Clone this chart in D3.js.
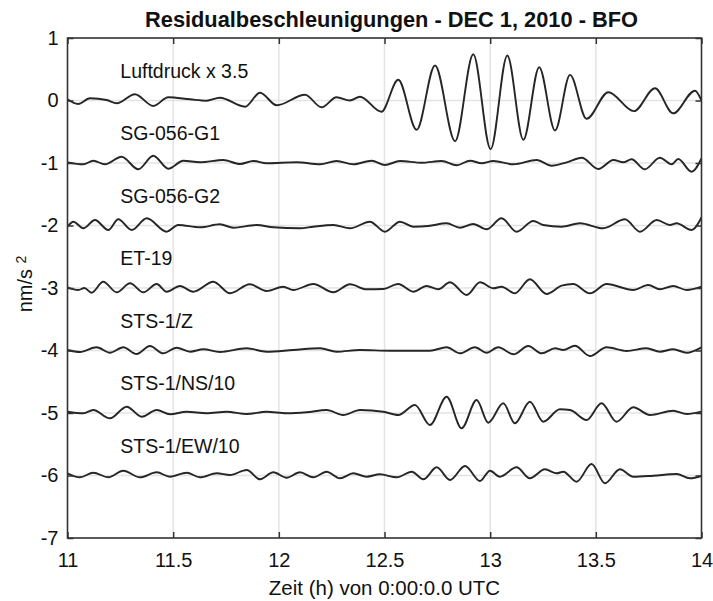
<!DOCTYPE html>
<html>
<head>
<meta charset="utf-8">
<script src="https://cdn.jsdelivr.net/npm/d3@7"></script>
<style>
	body { margin: 0; background: #fff; }
	svg text { font-family: "Liberation Sans", Arial, sans-serif; fill: #111; }
</style>
</head>
<body>
<svg id="chart" width="713" height="601"></svg>
<script>
// residuals: [hour, value] at each peak / trough
const luftdruck = [[11.0, 0.02], [11.05, -0.056], [11.106, 0.035], [11.185, 0.008], [11.233, -0.045], [11.319, 0.099],
	[11.406, -0.088], [11.477, 0.051], [11.58, 0.019], [11.658, -0.003], [11.721, 0.045], [11.84, -0.099], [11.911, 0.125],
	[11.99, -0.077], [12.124, 0.093], [12.202, -0.109], [12.273, 0.051], [12.336, 0.0], [12.384, 0.061], [12.485, -0.18],
	[12.565, 0.331], [12.652, -0.469], [12.739, 0.56], [12.834, -0.651], [12.92, 0.74], [13.002, -0.779], [13.081, 0.72],
	[13.157, -0.629], [13.232, 0.533], [13.307, -0.48], [13.378, 0.41], [13.456, -0.293], [13.559, 0.133], [13.68, -0.17],
	[13.78, 0.195], [13.866, -0.205], [13.969, 0.157], [14.0, 0.0]];

const sg056g1 = [[11.0, 0.011], [11.075, -0.021], [11.122, 0.037], [11.177, -0.021], [11.256, 0.101], [11.335, -0.101],
	[11.406, 0.117], [11.477, -0.091], [11.548, 0.037], [11.627, 0.011], [11.737, 0.048], [11.816, -0.016], [11.879, 0.032],
	[11.942, -0.005], [12.084, 0.011], [12.195, -0.021], [12.273, 0.032], [12.352, -0.021], [12.439, 0.037], [12.502, -0.032],
	[12.573, 0.032], [12.676, 0.005], [12.771, 0.032], [12.841, -0.037], [12.905, 0.037], [12.96, -0.005], [13.015, 0.032],
	[13.11, -0.021], [13.22, 0.048], [13.291, -0.043], [13.362, 0.011], [13.433, 0.085], [13.512, -0.096], [13.583, 0.048],
	[13.63, 0.011], [13.669, 0.059], [13.732, -0.101], [13.803, 0.085], [13.859, -0.021], [13.89, 0.064], [13.953, -0.139],
	[14.0, 0.075]];

const sg056g2 = [[11.0, -0.019], [11.028, 0.061], [11.075, -0.045], [11.13, 0.088], [11.193, -0.072], [11.24, 0.099],
	[11.304, -0.072], [11.375, 0.115], [11.469, -0.099], [11.524, 0.008], [11.627, -0.029], [11.721, 0.019], [11.785, -0.035],
	[11.895, 0.008], [11.974, -0.029], [12.1, -0.045], [12.163, -0.019], [12.258, 0.008], [12.337, -0.045], [12.431, 0.061],
	[12.502, -0.099], [12.573, 0.061], [12.636, -0.019], [12.707, -0.008], [12.794, 0.035], [12.857, -0.035], [12.92, 0.024],
	[12.983, -0.061], [13.054, 0.115], [13.125, -0.099], [13.204, 0.072], [13.251, 0.008], [13.338, -0.019], [13.425, 0.035],
	[13.535, -0.045], [13.638, 0.099], [13.709, -0.099], [13.788, 0.088], [13.851, 0.008], [13.882, 0.035], [13.953, -0.072],
	[14.0, 0.131]];

const et19 = [[11.0, 0.011], [11.051, -0.032], [11.08, 0.0], [11.114, -0.075], [11.169, 0.101], [11.233, -0.069],
	[11.296, 0.075], [11.359, -0.069], [11.422, 0.064], [11.469, -0.059], [11.532, 0.032], [11.595, -0.059], [11.69, 0.101],
	[11.769, -0.085], [11.863, 0.059], [11.942, -0.048], [12.021, 0.021], [12.068, -0.032], [12.163, 0.064], [12.258, -0.069],
	[12.337, 0.059], [12.415, -0.021], [12.494, -0.016], [12.565, 0.064], [12.636, -0.059], [12.699, 0.032], [12.755, -0.021],
	[12.81, 0.091], [12.889, -0.112], [12.952, 0.091], [13.015, -0.005], [13.054, 0.021], [13.117, -0.085], [13.188, 0.139],
	[13.267, -0.096], [13.338, 0.037], [13.393, 0.064], [13.472, -0.085], [13.551, 0.064], [13.677, -0.032], [13.748, 0.048],
	[13.803, -0.021], [13.866, 0.032], [13.93, -0.032], [14.0, 0.021]];

const stsZ = [[11.0, 0.008], [11.059, -0.024], [11.138, 0.051], [11.201, -0.035], [11.264, 0.051], [11.327, -0.056],
	[11.39, 0.072], [11.453, -0.045], [11.516, 0.045], [11.58, -0.019], [11.643, 0.019], [11.721, -0.024], [11.848, 0.035],
	[11.942, -0.019], [12.068, 0.008], [12.195, 0.035], [12.273, -0.019], [12.384, 0.008], [12.526, -0.003], [12.715, -0.003],
	[12.794, 0.051], [12.857, -0.045], [12.928, 0.051], [12.983, -0.035], [13.038, 0.051], [13.11, -0.061], [13.18, 0.072],
	[13.244, -0.045], [13.307, 0.035], [13.346, 0.008], [13.401, 0.077], [13.472, -0.088], [13.551, 0.051], [13.646, -0.008],
	[13.74, 0.035], [13.803, -0.019], [13.866, 0.019], [13.93, -0.035], [14.0, 0.051]];

const stsNS = [[11.0, 0.021], [11.075, -0.005], [11.122, 0.048], [11.201, -0.085], [11.28, 0.101], [11.351, -0.059],
	[11.422, 0.048], [11.485, -0.021], [11.564, 0.021], [11.658, -0.005], [11.753, 0.021], [11.848, -0.016], [11.942, 0.021],
	[12.037, -0.005], [12.131, 0.011], [12.226, 0.048], [12.305, -0.032], [12.384, 0.048], [12.494, 0.021], [12.565, -0.032],
	[12.644, 0.128], [12.715, -0.192], [12.794, 0.261], [12.865, -0.245], [12.936, 0.208], [12.991, -0.155], [13.062, 0.155],
	[13.117, -0.165], [13.188, 0.181], [13.251, -0.139], [13.33, 0.059], [13.378, 0.048], [13.456, -0.112], [13.527, 0.155],
	[13.598, -0.139], [13.677, 0.091], [13.756, -0.032], [13.866, 0.037], [13.93, -0.016], [14.0, 0.021]];

const stsEW = [[11.0, 0.035], [11.059, -0.029], [11.122, 0.045], [11.193, -0.029], [11.264, 0.077], [11.343, -0.029],
	[11.422, 0.051], [11.485, -0.019], [11.564, 0.045], [11.627, -0.029], [11.706, 0.035], [11.769, 0.008], [11.848, 0.088],
	[11.911, -0.061], [11.974, 0.051], [12.037, -0.035], [12.1, 0.051], [12.163, -0.029], [12.226, 0.061], [12.289, -0.045],
	[12.352, 0.035], [12.415, -0.019], [12.478, 0.019], [12.558, -0.029], [12.629, 0.061], [12.684, -0.061], [12.747, 0.131],
	[12.81, -0.072], [12.881, 0.152], [12.952, -0.088], [12.999, 0.077], [13.046, -0.019], [13.125, 0.131], [13.188, -0.045],
	[13.259, 0.099], [13.315, 0.035], [13.346, 0.061], [13.409, -0.099], [13.48, 0.184], [13.543, -0.125], [13.614, 0.099],
	[13.677, -0.019], [13.772, -0.003], [13.882, 0.024], [13.945, -0.045], [14.0, -0.008]];

const traces = [luftdruck, sg056g1, sg056g2, et19, stsZ, stsNS, stsEW];
const traceLabels = ['Luftdruck x 3.5', 'SG-056-G1', 'SG-056-G2', 'ET-19', 'STS-1/Z', 'STS-1/NS/10', 'STS-1/EW/10'];
const traceOffsets = [0, -1, -2, -3, -4, -5, -6];

const xTicks = [11, 11.5, 12, 12.5, 13, 13.5, 14];
const yTicks = [1, 0, -1, -2, -3, -4, -5, -6, -7];

const chartTitle = 'Residualbeschleunigungen - DEC 1, 2010 - BFO';
const xTitle = 'Zeit (h) von 0:00:0.0 UTC';

const Chart = {
	margin: { top: 38, right: 11.5, bottom: 63, left: 67.5 },
	width: 713,
	height: 601,

	draw: function() {
		const self = this;
		let svg = d3.select('#chart');
		let innerWidth = self.width - self.margin.left - self.margin.right;
		let innerHeight = self.height - self.margin.top - self.margin.bottom;
		let x = d3.scaleLinear().domain([ 11, 14 ]).range([ 0, innerWidth ]);
		let y = d3.scaleLinear().domain([ -7, 1 ]).range([ innerHeight, 0 ]);
		let g = svg.append('g')
			.attr('transform', 'translate(' + self.margin.left + ',' + self.margin.top + ')');

		self.drawGrid(g, x, y, innerWidth, innerHeight);
		self.drawTraces(g, x, y, innerWidth, innerHeight);
		self.drawAxes(g, x, y, innerWidth, innerHeight);
		self.drawTexts(svg, g, x, y, innerWidth, innerHeight);
	},
	drawGrid: function(g, x, y, innerWidth, innerHeight) {
		g.append('g').selectAll('line')
			.data(xTicks.slice(1, -1))
			.join('line')
			.attr('x1', d => x(d)).attr('x2', d => x(d))
			.attr('y1', 0).attr('y2', innerHeight)
			.style('stroke', '#e3e3e3')
			.style('stroke-width', 1.5);

		g.append('g').selectAll('line')
			.data(yTicks.slice(1, -1))
			.join('line')
			.attr('x1', 0).attr('x2', innerWidth)
			.attr('y1', d => y(d)).attr('y2', d => y(d))
			.style('stroke', '#e3e3e3')
			.style('stroke-width', 1.5);
	},
	drawTraces: function(g, x, y, innerWidth, innerHeight) {
		g.append('clipPath').attr('id', 'plot-clip')
			.append('rect')
			.attr('width', innerWidth)
			.attr('height', innerHeight);

		for (let i = 0; i < traces.length; i++) {
			let offset = traceOffsets[i];
			let line = d3.line()
				.x(d => x(d[0]))
				.y(d => y(d[1] + offset))
				.curve(d3.curveMonotoneX);

			g.append('path')
				.datum(traces[i])
				.attr('d', line)
				.attr('clip-path', 'url(#plot-clip)')
				.style('fill', 'none')
				.style('stroke', '#262626')
				.style('stroke-width', 1.9);
		}
	},
	drawAxes: function(g, x, y, innerWidth, innerHeight) {
		// plain hyphen for negatives, like the original
		let plain = d => String(d);
		let bottom = g.append('g')
			.attr('transform', 'translate(0,' + innerHeight + ')')
			.call(d3.axisBottom(x).tickValues(xTicks).tickFormat(plain).tickSize(-6).tickPadding(15));
		let top = g.append('g')
			.call(d3.axisTop(x).tickValues(xTicks).tickFormat('').tickSize(-6));
		let left = g.append('g')
			.call(d3.axisLeft(y).tickValues(yTicks).tickFormat(plain).tickSize(-6).tickPadding(9));
		let right = g.append('g')
			.attr('transform', 'translate(' + innerWidth + ',0)')
			.call(d3.axisRight(y).tickValues(yTicks).tickFormat('').tickSize(-6));

		[ bottom, top, left, right ].forEach(function(axis) {
			axis.select('.domain').remove();
			axis.selectAll('.tick line')
				.style('stroke', '#333')
				.style('stroke-width', 1.5);
			axis.selectAll('.tick text')
				.style('font-size', '20px')
				.style('fill', '#111')
				.attr('font-family', null);
		});

		g.append('rect')
			.attr('width', innerWidth)
			.attr('height', innerHeight)
			.style('fill', 'none')
			.style('stroke', '#333')
			.style('stroke-width', 1.6);
	},
	drawTexts: function(svg, g, x, y, innerWidth, innerHeight) {
		const self = this;

		g.selectAll('.trace-label')
			.data(traceLabels)
			.join('text')
			.attr('class', 'trace-label')
			.attr('x', x(11.25))
			.attr('y', (d, i) => y(traceOffsets[i] + 0.47))
			.attr('dy', '0.35em')
			.style('font-size', '19.5px')
			.text(d => d);

		svg.append('text')
			.attr('x', self.margin.left + innerWidth / 2 + 7)
			.attr('y', 27)
			.attr('text-anchor', 'middle')
			.style('font-size', '21.8px')
			.style('font-weight', 'bold')
			.text(chartTitle);

		svg.append('text')
			.attr('x', self.margin.left + innerWidth / 2)
			.attr('y', 595)
			.attr('text-anchor', 'middle')
			.style('font-size', '20.5px')
			.text(xTitle);

		let yLabel = svg.append('text')
			.attr('transform', 'translate(32,' + (self.margin.top + innerHeight / 2 - 4) + ') rotate(-90)')
			.attr('text-anchor', 'middle')
			.style('font-size', '20px');
		yLabel.append('tspan').text('nm/s ');
		yLabel.append('tspan')
			.attr('dy', '-0.45em')
			.style('font-size', '14px')
			.text('2');
	}
}

Chart.draw();
</script>
</body>
</html>
